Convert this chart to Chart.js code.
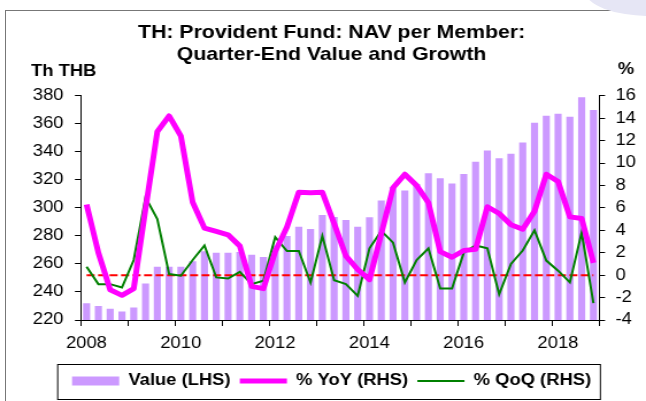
<!DOCTYPE html>
<html>
<head>
<meta charset="utf-8">
<script src="https://cdn.jsdelivr.net/npm/chart.js@4.4.1/dist/chart.umd.min.js"></script>
<style>
    html, body { margin: 0; padding: 0; background: #fff; }
    #wrap { position: relative; width: 646px; height: 401px; overflow: hidden; }
    #frame { position: absolute; left: 5px; top: 10px; width: 700px; height: 500px; border-left: 1px solid #777; border-top: 1px solid #777; }
    #swoosh { position: absolute; left: 585px; top: -34px; width: 130px; height: 50px; border-radius: 50%; background: #e6e6f5; }
    #chart { position: absolute; left: 0; top: 0; }
</style>
</head>
<body>
<div id="wrap">
    <div id="frame"></div>
    <div id="swoosh"></div>
    <!-- the reference is stretched sideways, so the canvas is drawn narrower and widened by css -->
    <canvas id="chart" width="562" height="401" style="width: 646px; height: 401px;"></canvas>
</div>
<script>
/* Donnees */
const quarters = [
    '2008Q1', '2008Q2', '2008Q3', '2008Q4', '2009Q1', '2009Q2', '2009Q3', '2009Q4',
    '2010Q1', '2010Q2', '2010Q3', '2010Q4', '2011Q1', '2011Q2', '2011Q3', '2011Q4',
    '2012Q1', '2012Q2', '2012Q3', '2012Q4', '2013Q1', '2013Q2', '2013Q3', '2013Q4',
    '2014Q1', '2014Q2', '2014Q3', '2014Q4', '2015Q1', '2015Q2', '2015Q3', '2015Q4',
    '2016Q1', '2016Q2', '2016Q3', '2016Q4', '2017Q1', '2017Q2', '2017Q3', '2017Q4',
    '2018Q1', '2018Q2', '2018Q3', '2018Q4'
];

// NAV per member, Th THB (LHS)
const navValue = [
    232, 230, 228, 226, 229, 246, 258, 258, 258, 262, 269,
    268, 268, 268.5, 266.5, 265, 273, 280, 286.5, 285, 295, 293.5,
    291.4, 286.5, 293.4, 305.2, 315, 312.4, 317, 324.8, 321.2, 317.4,
    324.1, 332.9, 341, 335.5, 338.7, 346.7, 360.7, 365.7, 367.1, 365, 379, 369.8
];

// % YoY (RHS)
const yoyGrowth = [
    6.3, 2.0, -1.3, -1.8, -1.2, 5.9, 12.8, 14.2, 12.4, 6.5, 4.2,
    3.9, 3.6, 2.6, -1.0, -1.2, 2.1, 4.3, 7.4, 7.35, 7.4, 4.6,
    1.7, 0.5, -0.4, 3.7, 7.8, 9.0, 8.0, 6.45, 2.1, 1.6,
    2.2, 2.3, 6.1, 5.5, 4.5, 4.1, 5.7, 9.0, 8.35, 5.2, 5.05, 1.1
];

// % QoQ (RHS)
const qoqGrowth = [
    0.75, -0.8, -0.8, -1.1, 1.35, 6.95, 5.0, 0.1, -0.05, 1.35, 2.65,
    -0.2, -0.3, 0.3, -0.8, -0.5, 3.4, 2.15, 2.15, -0.65, 3.5, -0.45,
    -0.8, -1.85, 2.4, 3.95, 2.9, -0.65, 1.35, 2.4, -1.2, -1.2,
    2.0, 2.65, 2.4, -1.7, 1.0, 2.2, 4.0, 1.3, 0.4, -0.65, 3.8, -2.5
];

// ligne rouge du zero, du premier au dernier trimestre
const zeroLine = [0, 0];

// axes
const yearRange = [2008, 2019];
const leftRange = [220, 380];
const leftStep = 20;
const rightRange = [-4, 16];
const rightStep = 2;

const FONT = '"Liberation Sans", Arial, sans-serif';

// position of each quarter on the year axis (middle of the quarter)
const quarterX = quarters.map(q => Number(q.slice(0, 4)) + (Number(q.slice(5)) - 0.5) / 4);
const toPoints = values => values.map((v, i) => ({ x: quarterX[i], y: v }));

/* Titres des axes (Th THB / %) */
const unitLabels = {
    id: 'unitLabels',
    afterDraw(chart) {
        const ctx = chart.ctx;
        ctx.save();
        ctx.fillStyle = '#000';
        ctx.font = 'bold 16px ' + FONT;
        ctx.textBaseline = 'middle';
        ctx.textAlign = 'left';
        ctx.fillText('Th THB', 27, 72);
        ctx.textAlign = 'center';
        ctx.fillText('%', 544.5, 70);
        ctx.restore();
    }
};

/* Cadre autour de la legende */
const legendBox = {
    id: 'legendBox',
    afterDraw(chart) {
        const boxes = chart.legend.legendHitBoxes;
        if (!boxes || !boxes.length) return;
        const first = boxes[0];
        const last = boxes[boxes.length - 1];
        const mid = first.top + first.height / 2;
        const ctx = chart.ctx;
        ctx.save();
        ctx.strokeStyle = '#000';
        ctx.lineWidth = 1;
        ctx.strokeRect(first.left - 12.5, Math.round(mid - 17) + 0.5, last.left + last.width + 8 - (first.left - 12.5), 35);
        ctx.restore();
    }
};

new Chart(document.getElementById('chart'), {
    type: 'bar',
    data: {
        datasets: [
            {
                type: 'bar',
                label: 'Value (LHS)',
                data: toPoints(navValue),
                backgroundColor: '#CC99FF',
                borderWidth: 0,
                barPercentage: 0.6,
                categoryPercentage: 1,
                yAxisID: 'yL',
                order: 4
            },
            {
                type: 'line',
                label: '% YoY (RHS)',
                data: toPoints(yoyGrowth),
                borderColor: '#FF00FF',
                backgroundColor: '#FF00FF',
                borderWidth: 5,
                borderJoinStyle: 'round',
                pointRadius: 0,
                tension: 0,
                yAxisID: 'yR',
                order: 1
            },
            {
                type: 'line',
                label: '% QoQ (RHS)',
                data: toPoints(qoqGrowth),
                borderColor: '#008000',
                backgroundColor: '#008000',
                borderWidth: 2,
                pointRadius: 0,
                tension: 0,
                yAxisID: 'yR',
                order: 2
            },
            {
                type: 'line',
                label: 'zero',
                data: [
                    { x: quarterX[0], y: zeroLine[0] },
                    { x: quarterX[quarterX.length - 1], y: zeroLine[1] }
                ],
                borderColor: '#FF0000',
                borderWidth: 2,
                borderDash: [7, 3],
                pointRadius: 0,
                yAxisID: 'yR',
                order: 3
            }
        ]
    },
    options: {
        responsive: false,
        animation: false,
        devicePixelRatio: 1,
        layout: { padding: { left: 15, right: 0, top: 0, bottom: 2 } },
        scales: {
            x: {
                type: 'linear',
                min: yearRange[0],
                max: yearRange[1],
                offset: false,
                grid: { display: true, drawOnChartArea: false, offset: false, tickLength: 6, color: '#000' },
                border: { color: '#000', width: 1 },
                ticks: {
                    stepSize: 1,
                    autoSkip: false,
                    maxRotation: 0,
                    labelOffset: 5,
                    padding: 8,
                    color: '#000',
                    font: { family: FONT, size: 16 },
                    callback: v => (v % 2 === 0 ? String(v) : '')
                },
                afterFit: s => { s.height = 45; }
            },
            yL: {
                position: 'left',
                min: leftRange[0],
                max: leftRange[1],
                grid: { drawOnChartArea: false, tickLength: 5, color: '#000' },
                border: { color: '#000', width: 1 },
                ticks: {
                    stepSize: leftStep,
                    padding: 10,
                    color: '#000',
                    font: { family: FONT, size: 16 }
                },
                afterFit: s => { s.width = 55.2; }
            },
            yR: {
                position: 'right',
                min: rightRange[0],
                max: rightRange[1],
                grid: { drawOnChartArea: false, tickLength: 5, color: '#000' },
                border: { color: '#000', width: 1 },
                ticks: {
                    stepSize: rightStep,
                    padding: 9,
                    color: '#000',
                    font: { family: FONT, size: 16 }
                },
                afterFit: s => { s.width = 40.6; }
            }
        },
        plugins: {
            title: {
                display: true,
                text: ['TH: Provident Fund: NAV per Member:', 'Quarter-End Value and Growth'],
                color: '#000',
                font: { family: FONT, size: 18.5, weight: 'bold', lineHeight: 1.17 },
                padding: { top: 22.5, bottom: 30 }
            },
            legend: {
                position: 'bottom',
                labels: {
                    color: '#000',
                    font: { family: FONT, size: 16, weight: 'bold' },
                    usePointStyle: true,
                    pointStyleWidth: 41,
                    boxHeight: 9,
                    padding: 8,
                    filter: item => item.text !== 'zero',
                    sort: (a, b) => a.datasetIndex - b.datasetIndex,
                    generateLabels: chart => Chart.defaults.plugins.legend.labels.generateLabels(chart)
                        .map(item => ({ ...item, pointStyle: item.datasetIndex === 0 ? 'rect' : 'line' }))
                }
            },
            tooltip: { enabled: false }
        }
    },
    plugins: [unitLabels, legendBox]
});
</script>
</body>
</html>
